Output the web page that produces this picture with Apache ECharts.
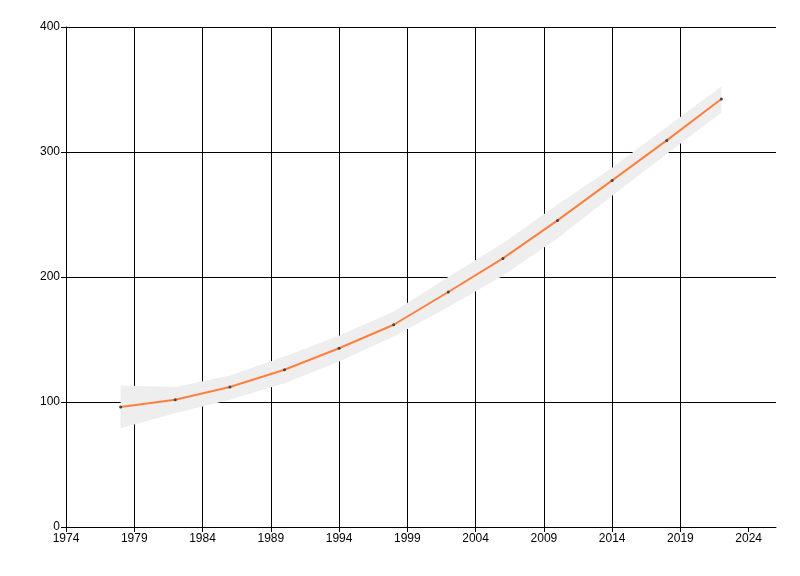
<!DOCTYPE html>
<html>
<head>
<meta charset="utf-8">
<script src="https://cdn.jsdelivr.net/npm/echarts@6/dist/echarts.min.js"></script>
<style>html,body{margin:0;padding:0;background:#fff}#c{width:800px;height:576px}</style>
</head>
<body>
<div id="c"></div>
<script>
const years = [1978, 1982, 1986, 1990, 1994, 1998, 2002, 2006, 2010, 2014, 2018, 2022];
const values = [96, 101.8, 112, 125.8, 143, 161.8, 188, 214.9, 245.3, 277.3, 309.3, 342.4];
const lowerBand = [79, 91, 101.8, 115, 132.5, 152.5, 176, 201, 231, 265, 298.4, 331.7];
const upperBand = [113.3, 112, 121.3, 136.5, 153, 172.5, 200, 227, 258, 287.5, 320, 352.5];
const xTicks = [1974, 1979, 1984, 1989, 1994, 1999, 2004, 2009, 2014, 2019, 2024];

const font = 'Liberation Sans';
const chart = echarts.init(document.getElementById('c'), null, {renderer: 'canvas'});
chart.setOption({
  animation: false,
  backgroundColor: '#ffffff',
  grid: {left: 66, right: 24, top: 27, bottom: 49, containLabel: false},
  xAxis: {
    type: 'value', min: 1974, max: 2026, interval: 5,
    axisLine: {show: true, lineStyle: {color: '#000', width: 1}},
    axisTick: {show: true, length: 5, lineStyle: {color: '#000'}, customValues: xTicks},
    axisLabel: {color: '#000', fontFamily: font, fontSize: 12, margin: 6, customValues: xTicks,
      formatter: v => String(v)},
    splitLine: {show: true, showMaxLine: false, lineStyle: {color: '#000', width: 1}}
  },
  yAxis: {
    type: 'value', min: 0, max: 400, interval: 100,
    axisLine: {show: true, lineStyle: {color: '#000', width: 1}},
    axisTick: {show: true, length: 5, lineStyle: {color: '#000'}},
    axisLabel: {color: '#000', fontFamily: font, fontSize: 12, margin: 6},
    splitLine: {show: true, lineStyle: {color: '#000', width: 1}}
  },
  series: [
    {
      type: 'custom',
      z: 1,
      silent: true,
      data: years.map((y, i) => [y, lowerBand[i], upperBand[i]]),
      renderItem: function (params, api) {
        if (params.dataIndex !== 0) return null;
        const pts = [];
        for (let i = 0; i < years.length; i++) pts.push(api.coord([years[i], upperBand[i]]));
        for (let i = years.length - 1; i >= 0; i--) pts.push(api.coord([years[i], lowerBand[i]]));
        return {type: 'polygon', shape: {points: pts}, style: {fill: '#eeeeee'}};
      }
    },
    {
      type: 'line',
      z: 3,
      data: years.map((y, i) => [y, values[i]]),
      symbol: 'circle',
      symbolSize: 3,
      showSymbol: true,
      lineStyle: {color: '#ff7f3f', width: 2},
      itemStyle: {color: '#444444', borderWidth: 0}
    }
  ]
});
</script>
</body>
</html>
